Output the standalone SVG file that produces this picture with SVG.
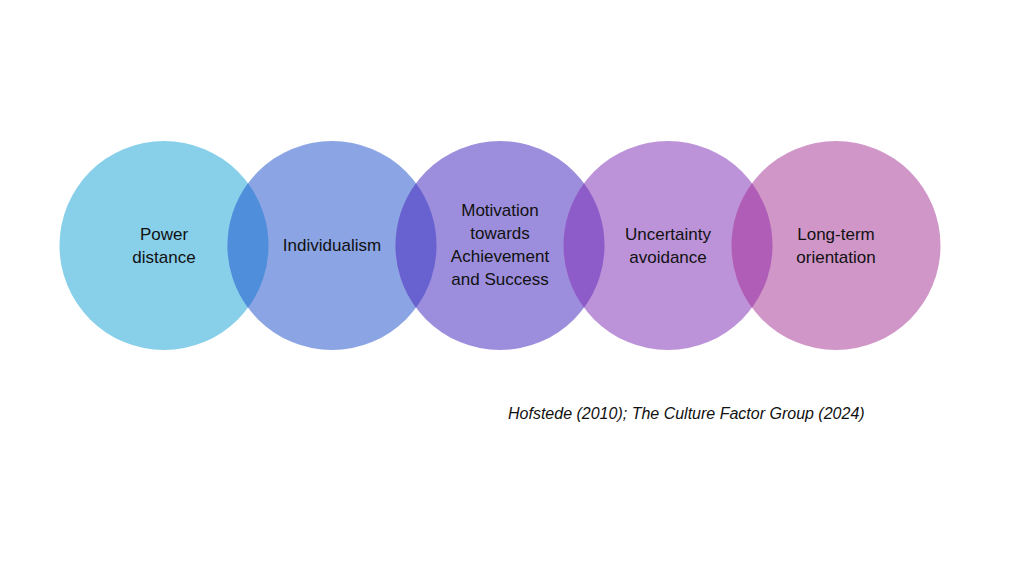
<svg xmlns="http://www.w3.org/2000/svg" width="1024" height="576" viewBox="0 0 1024 576">
<style>
text{font-family:"Liberation Sans",Arial,sans-serif;font-size:17px;fill:#111;text-anchor:middle}
.cite{font-style:italic;font-size:16px;text-anchor:start}
</style>
<rect width="1024" height="576" fill="#fff"/>
<g id="connectors"></g>
<g id="n1"><circle cx="164" cy="245.5" r="104.5" fill="#88CFEA"/></g>
<g id="n2"><circle cx="332" cy="245.5" r="104.5" fill="#8BA4E3"/></g>
<g id="n3"><circle cx="500" cy="245.5" r="104.5" fill="#9C8EDC"/></g>
<g id="n4"><circle cx="668" cy="245.5" r="104.5" fill="#BC93D8"/></g>
<g id="n5"><circle cx="836" cy="245.5" r="104.5" fill="#D096C8"/></g>
<g id="overlaps">
<path d="M248,183.3 A104.5,104.5 0 0 1 248,307.7 A104.5,104.5 0 0 1 248,183.3Z" fill="#4F8EDB"/>
<path d="M416,183.3 A104.5,104.5 0 0 1 416,307.7 A104.5,104.5 0 0 1 416,183.3Z" fill="#6861D0"/>
<path d="M584,183.3 A104.5,104.5 0 0 1 584,307.7 A104.5,104.5 0 0 1 584,183.3Z" fill="#8D5CC8"/>
<path d="M752,183.3 A104.5,104.5 0 0 1 752,307.7 A104.5,104.5 0 0 1 752,183.3Z" fill="#AF5DB6"/>
</g>
<g id="labels">
<text x="164" y="240">Power</text><text x="164" y="263">distance</text>
<text x="332" y="251">Individualism</text>
<text x="500" y="216">Motivation</text><text x="500" y="239">towards</text><text x="500" y="262">Achievement</text><text x="500" y="285">and Success</text>
<text x="668" y="240">Uncertainty</text><text x="668" y="263">avoidance</text>
<text x="836" y="240">Long-term</text><text x="836" y="263">orientation</text>
<text class="cite" x="508" y="419">Hofstede (2010); The Culture Factor Group (2024)</text>
</g>
</svg>
